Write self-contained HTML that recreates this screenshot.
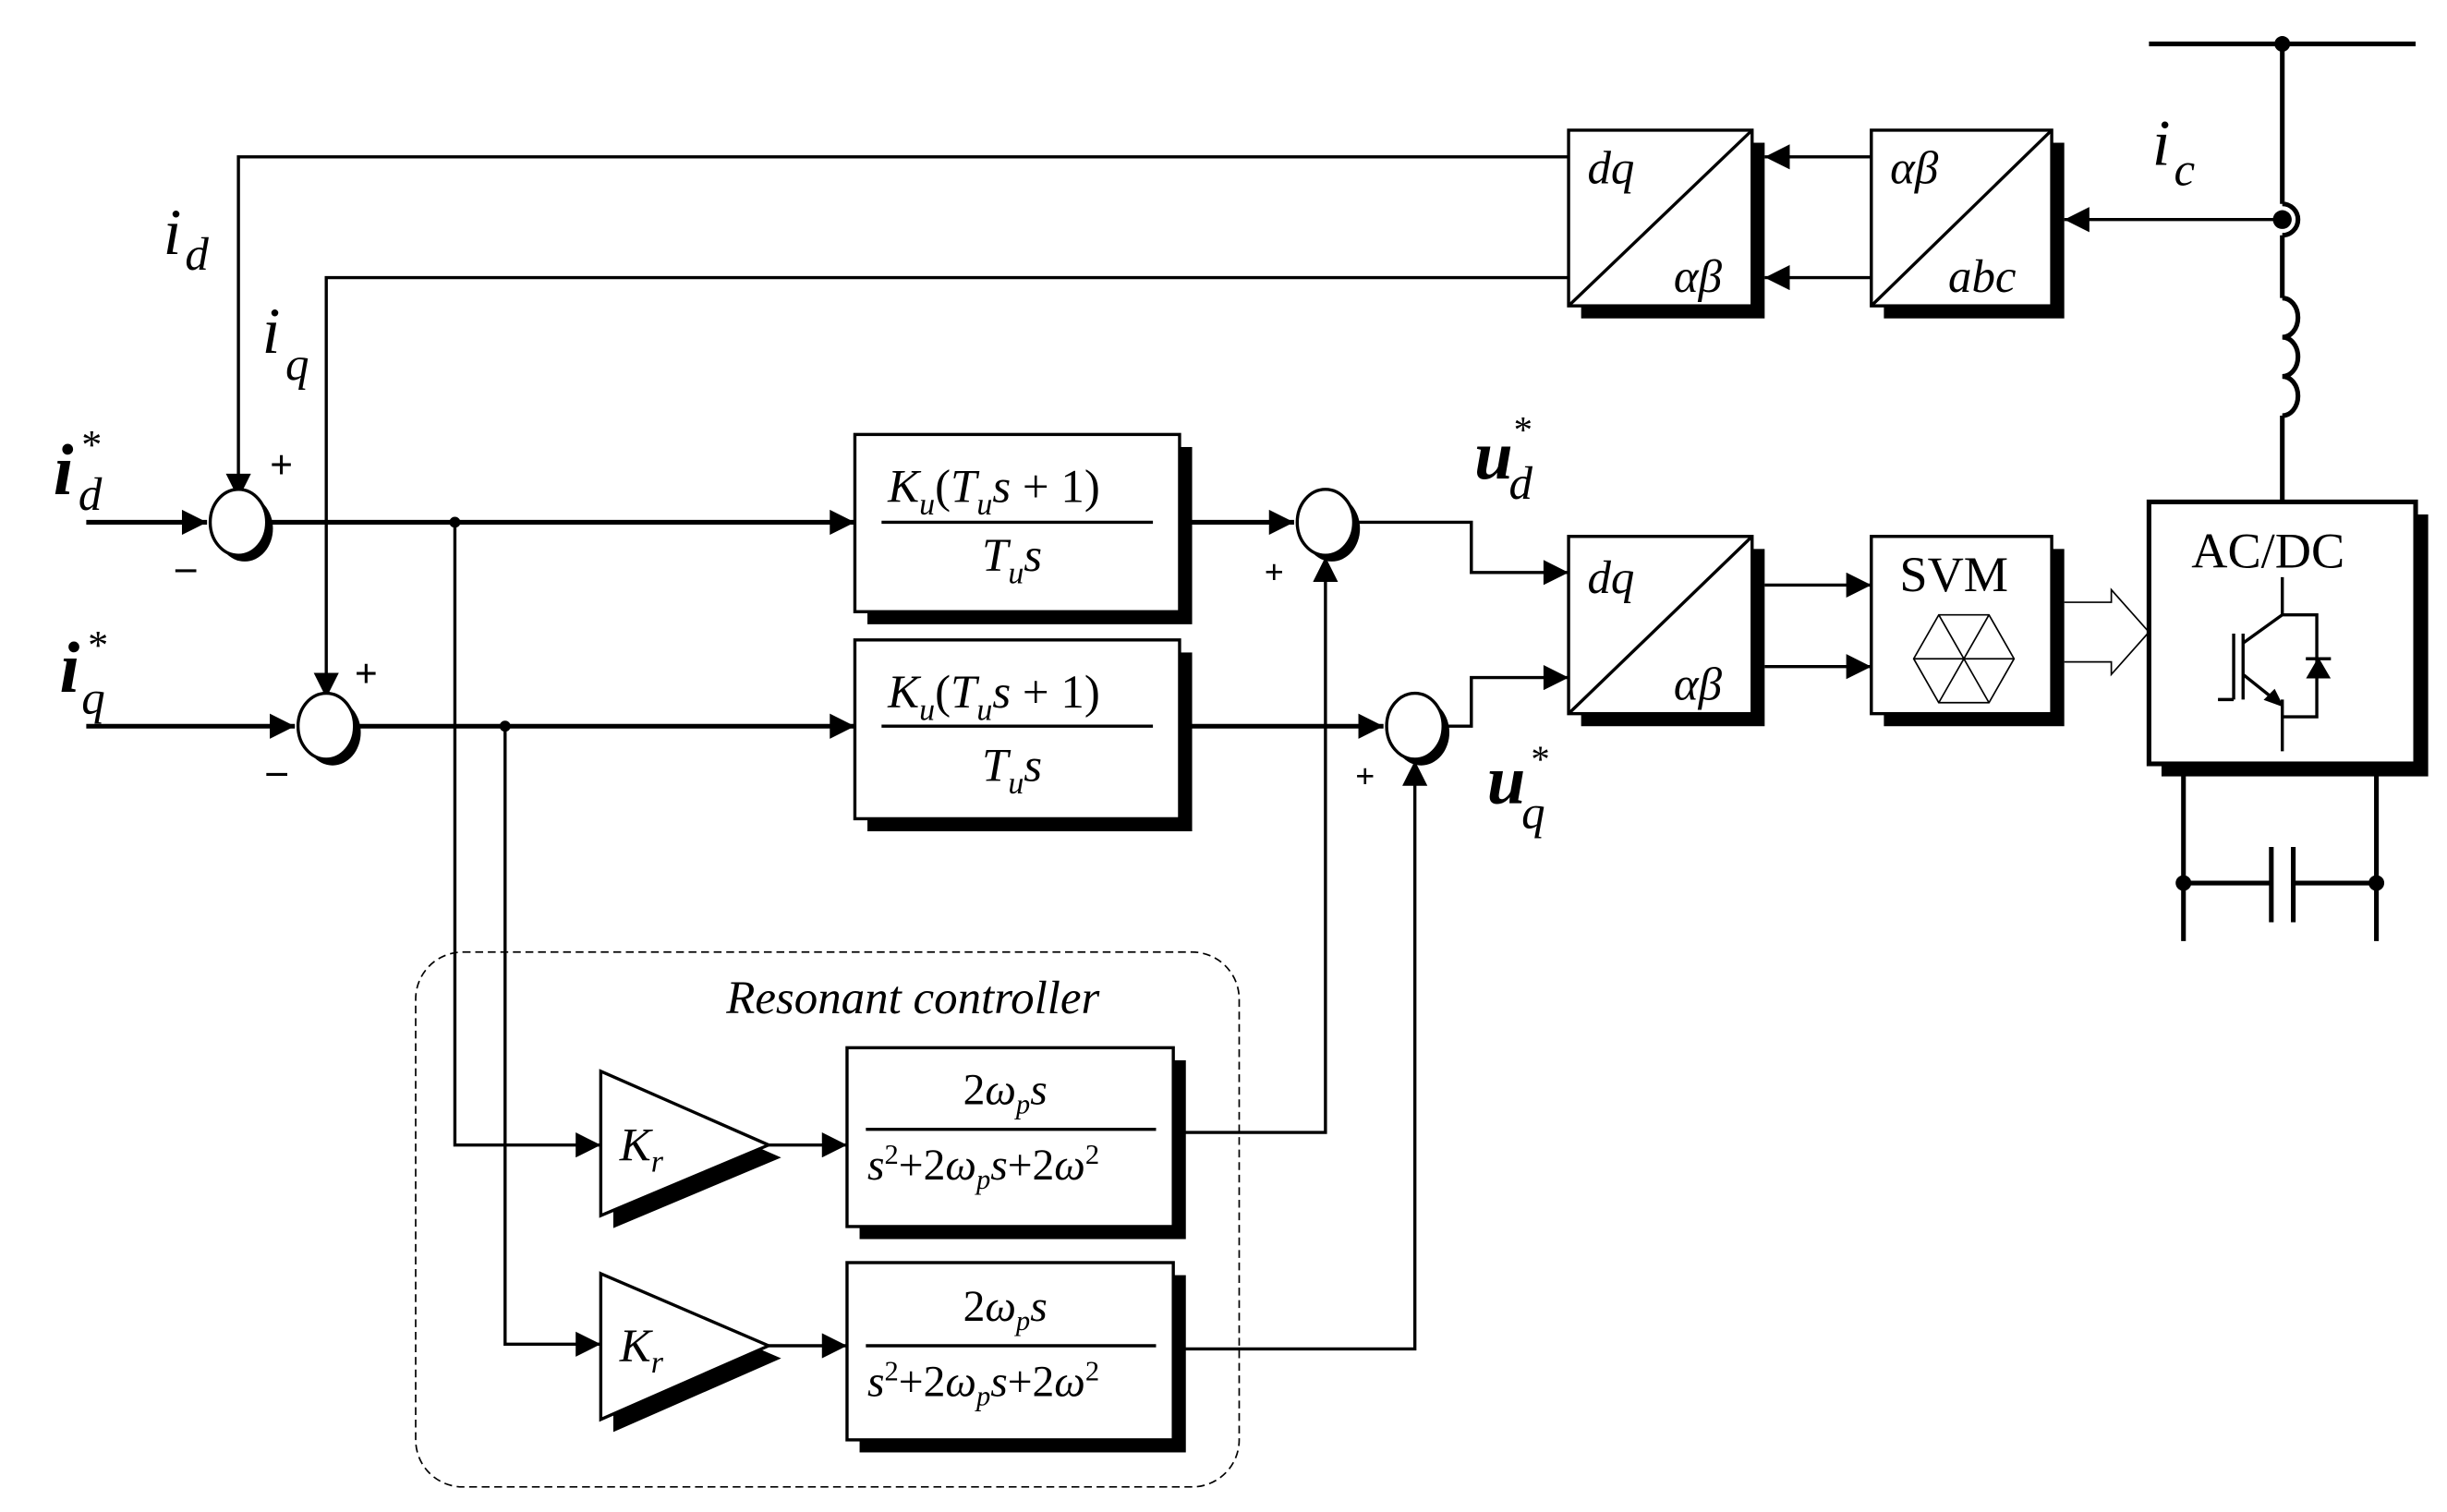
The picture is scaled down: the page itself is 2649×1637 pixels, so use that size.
<!DOCTYPE html>
<html><head><meta charset="utf-8"><style>
html,body{margin:0;padding:0;background:#fff}
svg{display:block}
text{font-family:"Liberation Serif",serif;fill:#000}
.i{font-style:italic}
</style></head><body>
<svg width="2649" height="1637" viewBox="0 0 1560 964" preserveAspectRatio="none" xmlns="http://www.w3.org/2000/svg">
<defs>
<marker id="a" viewBox="0 0 10 10" refX="10" refY="5" markerWidth="10" markerHeight="10" markerUnits="userSpaceOnUse" orient="auto"><path d="M0,0L10,5L0,10z" fill="#000"/></marker>
<marker id="b" viewBox="0 0 10 10" refX="10" refY="5" markerWidth="22" markerHeight="16" markerUnits="userSpaceOnUse" orient="auto"><path d="M0,0L10,5L0,10z" fill="#000"/></marker>
</defs>
<g fill="none" stroke="#000" stroke-width="2">
<!-- feedback lines -->
<path d="M1000,100H152V318" marker-end="url(#b)"/>
<path d="M1000,177H208V445" marker-end="url(#b)"/>
<!-- inputs -->
<path d="M55,333H132" stroke-width="3" marker-end="url(#b)"/>
<path d="M55,463H188" stroke-width="3" marker-end="url(#b)"/>
<path d="M172,333H545" stroke-width="3" marker-end="url(#b)"/>
<path d="M228,463H545" stroke-width="3" marker-end="url(#b)"/>
<path d="M290,333V730H383" marker-end="url(#b)"/>
<path d="M322,463V857H383" marker-end="url(#b)"/>
<path d="M752,333H825" stroke-width="3" marker-end="url(#b)"/>
<path d="M752,463H882" stroke-width="3" marker-end="url(#b)"/>
<path d="M748,722H845V355" marker-end="url(#b)"/>
<path d="M748,860H902V485" marker-end="url(#b)"/>
<path d="M865,333H938V365H1000" marker-end="url(#b)"/>
<path d="M922,463H938V432H1000" marker-end="url(#b)"/>
<path d="M490,730H540" marker-end="url(#b)"/>
<path d="M490,858H540" marker-end="url(#b)"/>
<path d="M1125,373H1193" marker-end="url(#b)"/>
<path d="M1125,425H1193" marker-end="url(#b)"/>
<path d="M1193,100H1125" marker-end="url(#b)"/>
<path d="M1193,177H1125" marker-end="url(#b)"/>
<path d="M1455,140H1316" marker-end="url(#b)"/>
<!-- shadows -->
<g fill="#000" stroke="none">
<rect x="553" y="285" width="207" height="113"/>
<rect x="553" y="416" width="207" height="114"/>
<rect x="548" y="676" width="208" height="114"/>
<rect x="548" y="813" width="208" height="113"/>
<rect x="1008" y="91" width="117" height="112"/>
<rect x="1201" y="91" width="115" height="112"/>
<rect x="1008" y="350" width="117" height="113"/>
<rect x="1201" y="350" width="115" height="113"/>
<rect x="1378" y="328" width="170" height="167"/>
<path d="M391,691L498,738L391,783z"/>
<path d="M391,820L498,866L391,913z"/>
<ellipse cx="156" cy="337" rx="18" ry="21"/>
<ellipse cx="212" cy="467" rx="18" ry="21"/>
<ellipse cx="849" cy="337" rx="18" ry="21"/>
<ellipse cx="906" cy="467" rx="18" ry="21"/>
</g>
<!-- boxes -->
<g fill="#fff" stroke-width="2">
<rect x="545" y="277" width="207" height="113"/>
<rect x="545" y="408" width="207" height="114"/>
<rect x="540" y="668" width="208" height="114"/>
<rect x="540" y="805" width="208" height="113"/>
<rect x="1000" y="83" width="117" height="112"/>
<rect x="1193" y="83" width="115" height="112"/>
<rect x="1000" y="342" width="117" height="113"/>
<rect x="1193" y="342" width="115" height="113"/>
<rect x="1370" y="320" width="170" height="167" stroke-width="3"/>
<path d="M383,683L490,730L383,775z"/>
<path d="M383,812L490,858L383,905z"/>
<ellipse cx="152" cy="333" rx="18" ry="21"/>
<ellipse cx="208" cy="463" rx="18" ry="21"/>
<ellipse cx="845" cy="333" rx="18" ry="21"/>
<ellipse cx="902" cy="463" rx="18" ry="21"/>
</g>
<path d="M1000,195L1117,83M1193,195L1308,83M1000,455L1117,342"/>
<!-- fraction lines -->
<path d="M562,333H735M562,463H735M552,720H737M552,858H737" stroke-width="2"/>
<!-- hollow arrow -->
<path d="M1316,384H1346V376L1370,403L1346,430V422H1316" stroke-width="1"/>
<!-- hexagon -->
<g stroke-width="1">
<path d="M1236,392H1268L1284,420L1268,448H1236L1220,420z M1236,392L1268,448 M1268,392L1236,448 M1220,420H1284"/>
</g>
<!-- grid side -->
<path d="M1370,28H1540M1455,28V130M1455,150V190 M1455,265V320" stroke-width="3"/>
<path d="M1455,130A10,10 0 0 1 1455,150" stroke-width="3"/>
<path d="M1455,190 a10,12.5 0 0 1 0,25 a10,12.5 0 0 1 0,25 a10,12.5 0 0 1 0,25" stroke-width="3"/>
<path d="M1392,487V600M1515,487V600M1392,563H1448M1462,563H1515M1448,540V588M1462,540V588" stroke-width="3"/>
<!-- IGBT -->
<path d="M1455,368V392H1477V457H1455V479 M1455,392L1430,410V430L1450,446 M1455,446V457 M1424,404V446M1430,404V446M1424,446H1414" stroke-width="2"/>
<path d="M1471,432H1485L1478,420z" fill="#000" stroke-width="1"/>
<path d="M1470,420H1486" stroke-width="2"/>
<path d="M1455,450L1444,446L1450,440z" fill="#000" stroke-width="1"/>
<!-- dashed -->
<rect x="265" y="607" width="525" height="341" rx="30" stroke-width="1" stroke-dasharray="5,3"/>
</g>
<g fill="#000">
<circle cx="1455" cy="28" r="5"/><circle cx="1455" cy="140" r="6"/>
<circle cx="1392" cy="563" r="5"/><circle cx="1515" cy="563" r="5"/>
<circle cx="290" cy="333" r="3.5"/><circle cx="322" cy="463" r="3.5"/>
</g>
<!-- text -->
<g font-size="30">
<text class="i" x="34" y="315" font-size="46" font-weight="bold">i</text><text class="i" x="50" y="325">d</text><text x="52" y="292" font-size="26">*</text>
<text class="i" x="38" y="441" font-size="46" font-weight="bold">i</text><text class="i" x="52" y="455">q</text><text x="56" y="420" font-size="26">*</text>
<text class="i" x="104" y="162" font-size="42">i</text><text class="i" x="118" y="172">d</text>
<text class="i" x="167" y="225" font-size="42">i</text><text class="i" x="182" y="242">q</text>
<text x="172" y="305" font-size="26" font-weight="bold">+</text>
<text x="112" y="370" font-size="26" font-weight="bold">–</text>
<text x="226" y="438" font-size="26" font-weight="bold">+</text>
<text x="170" y="500" font-size="26" font-weight="bold">–</text>
<text x="806" y="372" font-size="22" font-weight="bold">+</text>
<text x="864" y="502" font-size="22" font-weight="bold">+</text>
<g class="i">
<text x="566" y="320">K<tspan font-size="20" dy="8">u</tspan><tspan dy="-8" font-style="normal">(</tspan>T<tspan font-size="20" dy="8">u</tspan><tspan dy="-8">s</tspan><tspan font-style="normal"> + 1)</tspan></text>
<text x="626" y="364">T<tspan font-size="20" dy="8">u</tspan><tspan dy="-8">s</tspan></text>
<text x="566" y="451">K<tspan font-size="20" dy="8">u</tspan><tspan dy="-8" font-style="normal">(</tspan>T<tspan font-size="20" dy="8">u</tspan><tspan dy="-8">s</tspan><tspan font-style="normal"> + 1)</tspan></text>
<text x="626" y="498">T<tspan font-size="20" dy="8">u</tspan><tspan dy="-8">s</tspan></text>
</g>
<text x="614" y="704" font-size="28"><tspan font-style="normal">2</tspan><tspan class="i">ω<tspan font-size="18" dy="6">p</tspan><tspan dy="-6">s</tspan></tspan></text>
<text x="553" y="752" font-size="28"><tspan class="i">s</tspan><tspan font-size="18" dy="-10">2</tspan><tspan dy="10">+2</tspan><tspan class="i">ω<tspan font-size="18" dy="6">p</tspan><tspan dy="-6">s</tspan></tspan>+2<tspan class="i">ω</tspan><tspan font-size="18" dy="-10">2</tspan></text>
<text x="614" y="842" font-size="28"><tspan font-style="normal">2</tspan><tspan class="i">ω<tspan font-size="18" dy="6">p</tspan><tspan dy="-6">s</tspan></tspan></text>
<text x="553" y="890" font-size="28"><tspan class="i">s</tspan><tspan font-size="18" dy="-10">2</tspan><tspan dy="10">+2</tspan><tspan class="i">ω<tspan font-size="18" dy="6">p</tspan><tspan dy="-6">s</tspan></tspan>+2<tspan class="i">ω</tspan><tspan font-size="18" dy="-10">2</tspan></text>
<text class="i" x="395" y="740">K<tspan font-size="20" dy="7">r</tspan></text>
<text class="i" x="395" y="868">K<tspan font-size="20" dy="7">r</tspan></text>
<text class="i" x="463" y="646" font-size="30">Resonant controller</text>
<text class="i" x="1012" y="117">dq</text><text class="i" x="1067" y="186">αβ</text>
<text class="i" x="1205" y="117">αβ</text><text class="i" x="1242" y="186">abc</text>
<text class="i" x="1012" y="378">dq</text><text class="i" x="1067" y="446">αβ</text>
<text x="1211" y="377" font-size="32">SVM</text>
<text x="1397" y="362" font-size="32">AC/DC</text>
<text class="i" x="1372" y="105" font-size="42">i</text><text class="i" x="1386" y="118">c</text>
<text class="i" x="940" y="305" font-size="44" font-weight="bold">u</text><text class="i" x="962" y="318">d</text><text x="965" y="282" font-size="24">*</text>
<text class="i" x="948" y="512" font-size="44" font-weight="bold">u</text><text class="i" x="970" y="528">q</text><text x="976" y="492" font-size="24">*</text>
</g>
</svg>
</body></html>
